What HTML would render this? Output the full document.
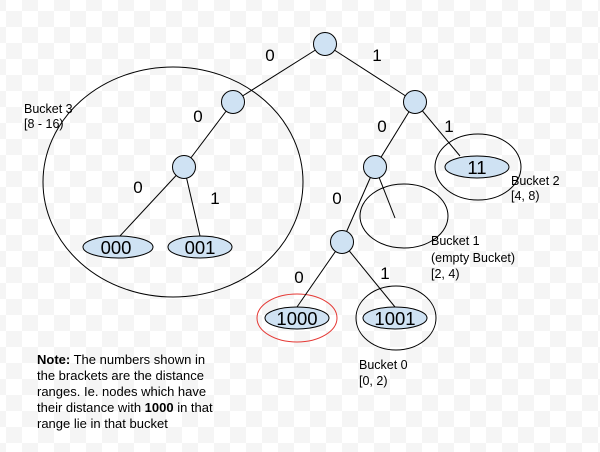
<!DOCTYPE html>
<html><head><style>
html,body{margin:0;padding:0}
body{width:600px;height:452px;overflow:hidden;background:repeating-conic-gradient(#fff 0 25%,#f5f5f5 0 50%) 6px 11px/32px 32px;}
svg{position:absolute;left:0;top:0}
.l{font:17px "Liberation Sans",sans-serif;fill:#000}
.b{font:12.5px "Liberation Sans",sans-serif;fill:#000}
.nt{font:13px "Liberation Sans",sans-serif;fill:#000}
.n{font:18.5px "Liberation Sans",sans-serif;fill:#000}
</style></head><body>
<svg width="600" height="452" viewBox="0 0 600 452">
<g fill="none" stroke="#000" stroke-width="1">
<ellipse cx="173" cy="182" rx="130" ry="115"/>
<ellipse cx="478" cy="167" rx="43" ry="33"/>
<ellipse cx="404" cy="216" rx="44" ry="32"/>
<ellipse cx="396" cy="318" rx="40" ry="32"/>
<ellipse cx="297" cy="318" rx="40" ry="24" stroke="#e53935"/>
<line x1="325" y1="44" x2="233" y2="102"/>
<line x1="325" y1="44" x2="415" y2="102"/>
<line x1="233" y1="102" x2="184" y2="167"/>
<line x1="184" y1="167" x2="119" y2="237"/>
<line x1="184" y1="167" x2="200" y2="236"/>
<line x1="415" y1="102" x2="460" y2="156"/>
<line x1="415" y1="102" x2="375" y2="167"/>
<line x1="375" y1="167" x2="342" y2="242"/>
<line x1="375" y1="167" x2="395" y2="218"/>
<line x1="342" y1="242" x2="297" y2="307"/>
<line x1="342" y1="242" x2="395" y2="307"/>
</g>
<g fill="#cfe2f3" stroke="#000" stroke-width="1">
<circle cx="325" cy="44" r="11.5"/>
<circle cx="233" cy="102" r="11.5"/>
<circle cx="415" cy="102" r="11.5"/>
<circle cx="184" cy="167" r="11.5"/>
<circle cx="375" cy="167" r="11.5"/>
<circle cx="342" cy="242" r="11.5"/>
<ellipse cx="118" cy="247" rx="35" ry="11"/>
<ellipse cx="200" cy="247" rx="32" ry="11"/>
<ellipse cx="477" cy="167" rx="32" ry="11"/>
<ellipse cx="297" cy="318" rx="32" ry="11"/>
<ellipse cx="395" cy="318" rx="32" ry="11"/>
</g>
<g class="n" text-anchor="middle">
<text x="116" y="254">000</text>
<text x="200" y="254">001</text>
<text x="477" y="174">11</text>
<text x="297" y="325">1000</text>
<text x="395" y="325">1001</text>
</g>
<g class="l" text-anchor="middle">
<text x="270" y="61">0</text>
<text x="377" y="61">1</text>
<text x="198" y="122">0</text>
<text x="382" y="132">0</text>
<text x="449" y="132">1</text>
<text x="138" y="193">0</text>
<text x="215" y="204">1</text>
<text x="337" y="204">0</text>
<text x="299" y="283">0</text>
<text x="385" y="279">1</text>
</g>
<g class="b">
<text x="24" y="113">Bucket 3</text>
<text x="24" y="128">[8 - 16)</text>
<text x="511" y="185">Bucket 2</text>
<text x="511" y="200">[4, 8)</text>
<text x="431" y="245">Bucket 1</text>
<text x="431" y="262">(empty Bucket)</text>
<text x="431" y="278">[2, 4)</text>
<text x="359" y="369">Bucket 0</text>
<text x="359" y="385">[0, 2)</text>
</g>
<g class="nt">
<text x="37" y="364"><tspan font-weight="bold">Note:</tspan> The numbers shown in</text>
<text x="37" y="380">the brackets are the distance</text>
<text x="37" y="396">ranges. Ie. nodes which have</text>
<text x="37" y="412">their distance with <tspan font-weight="bold">1000</tspan> in that</text>
<text x="37" y="428">range lie in that bucket</text>
</g>
</svg>
</body></html>
